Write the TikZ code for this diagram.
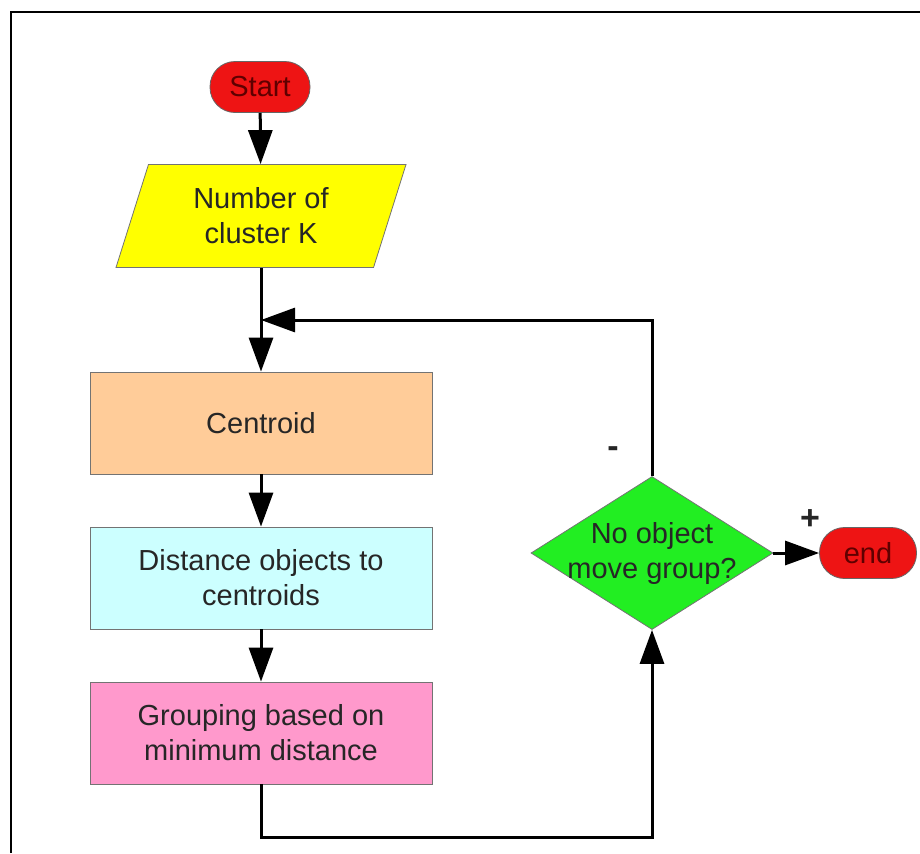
\documentclass[tikz,border=0pt]{standalone}
\usepackage{fontspec}
\setmainfont{Liberation Sans}
\usetikzlibrary{arrows.meta,shapes.geometric}

\definecolor{termred}{RGB}{238,20,20}
\definecolor{termtext}{RGB}{95,0,0}
\definecolor{inyellow}{RGB}{255,255,0}
\definecolor{centorange}{RGB}{255,204,153}
\definecolor{distcyan}{RGB}{204,255,255}
\definecolor{grppink}{RGB}{255,153,204}
\definecolor{decgreen}{RGB}{34,238,34}

\begin{document}
\begin{tikzpicture}[x=0.5pt,y=-0.5pt,
	font=\fontsize{14.5}{17.5}\selectfont,
	box/.style={draw=black!55, minimum width=171pt, minimum height=51pt, align=center, text=black!85},
	terminal/.style={draw=black!60, fill=termred, rounded corners=12.5pt, minimum height=25.5pt, text=termtext},
	flow/.style={-{Triangle[length=17pt,width=12pt]}, black, line width=1.5pt},
	sign/.style={font=\fontsize{17}{17}\selectfont\bfseries, text=black!85}
]
	\useasboundingbox (0,0) rectangle (920,853);
	% frame
	\draw[line width=1.25pt] (11,853) -- (11,12) -- (920,12);

	\node[terminal, minimum width=50pt] (start) at (260,87) {Start};
	\node[draw=black!55, fill=inyellow, trapezium, trapezium left angle=65, trapezium right angle=115,
		trapezium stretches body, minimum width=145pt, minimum height=51.5pt, align=center,
		text=black!85] (input) at (261,216) {Number of\\cluster K};
	\node[box, fill=centorange] (centroid) at (261,423) {Centroid};
	\node[box, fill=distcyan] (dist) at (261,578) {Distance objects to\\centroids};
	\node[box, fill=grppink] (group) at (261,733) {Grouping based on\\minimum distance};
	\node[diamond, draw=black!55, fill=decgreen, minimum width=121pt, minimum height=76.5pt, inner sep=0pt,
		label={[align=center, text=black!85]center:No object\\move group?}] (check) at (652,553) {};
	\node[terminal, minimum width=48.5pt] (end) at (868,553) {end};
	\node[sign] (minus) at (613,452) {-};
	\node[sign] (plus) at (810,520) {+};

	\coordinate (join) at (261,320);

	\draw[flow] (start) -- (input);
	\draw[line width=1.5pt] (input) -- (join);
	\draw[flow] (join) -- (centroid);
	\draw[flow] (centroid) -- (dist);
	\draw[flow] (dist) -- (group);
	\draw[flow] (group.south) -- ++(0,53) -| (check.south);
	\draw[flow] (check.north) |- (join);
	\draw[flow] (check.east) -- (end.west);
\end{tikzpicture}
\end{document}
